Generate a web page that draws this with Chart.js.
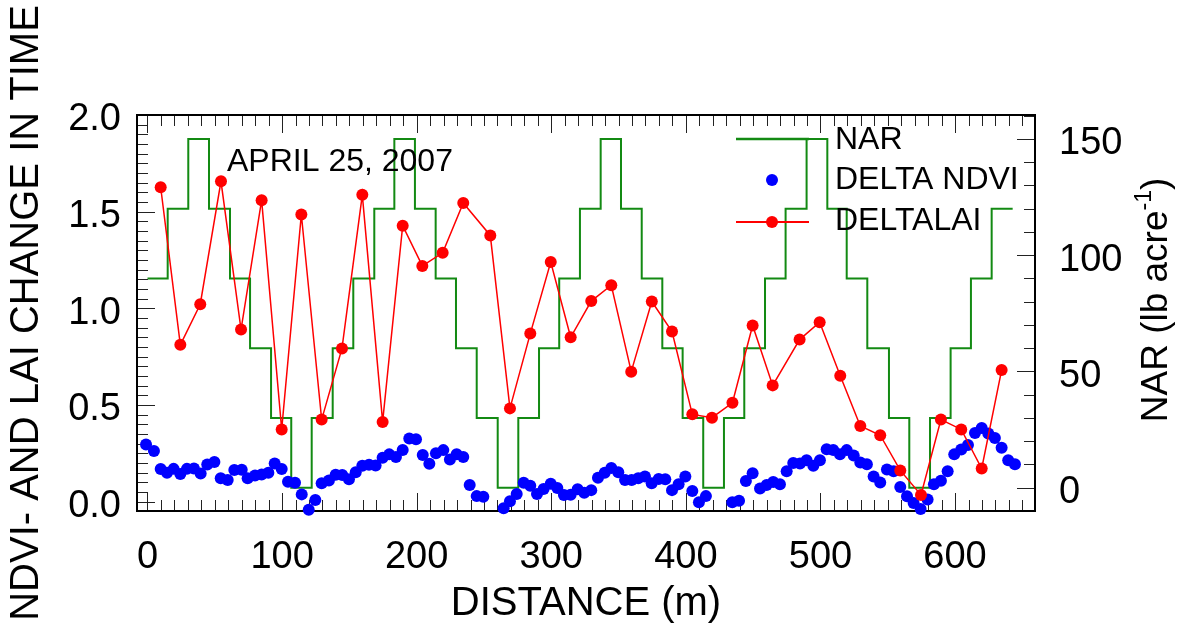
<!DOCTYPE html>
<html>
<head>
<meta charset="utf-8">
<script src="https://cdn.jsdelivr.net/npm/chart.js@4.4.1/dist/chart.umd.min.js"></script>
<style>
  html, body { margin: 0; padding: 0; background: #fff; }
</style>
</head>
<body>
<canvas id="chart" width="1178" height="628"></canvas>
<script>
// NAR application rate, step segments (start distance of each 50 ft strip, m)
const narDist = [0, 15.0, 30.3, 45.7, 61.3, 76.2, 91.8, 106.8, 122.0, 137.6, 152.9, 168.5, 183.4, 198.7,
  214.1, 229.2, 244.6, 260.2, 275.5, 290.9, 305.9, 321.3, 336.7, 351.8, 367.2, 382.5, 397.6, 412.9,
  428.3, 443.4, 458.8, 474.1, 489.7, 505.1, 519.5, 534.8, 550.9, 566.0, 581.4, 596.7, 611.8, 627.2, 642.8];
const narRate = [90, 120, 150, 120, 90, 60, 30, 0, 30, 60, 90, 120, 150, 120,
  90, 60, 30, 0, 30, 60, 90, 120, 150, 120, 90, 60, 30, 0,
  30, 60, 90, 120, 150, 120, 90, 60, 30, 0, 30, 60, 90, 120, 120];

// DELTA NDVI
const ndviDist = [-1.1, 4.8, 9.8, 14.5, 19.4, 24.4, 29.3, 34.5, 39.5, 44.4, 49.7, 54.4, 59.6, 64.5, 70.0,
  74.4, 79.9, 84.8, 89.8, 94.5, 99.7, 104.4, 109.6, 114.6, 119.8, 124.7, 129.4, 134.8, 139.8, 144.7,
  149.7, 154.7, 159.6, 164.6, 169.5, 174.7, 179.6, 184.6, 189.6, 194.5, 199.5, 204.5, 209.4, 214.3,
  219.8, 224.7, 229.7, 234.6, 239.4, 244.6, 249.5, 264.6, 269.3, 274.3, 279.5, 284.4, 289.4, 294.3,
  299.6, 304.5, 309.4, 314.4, 319.6, 324.5, 329.7, 334.7, 339.7, 344.6, 349.8, 354.8, 359.7, 364.6,
  369.6, 374.6, 379.8, 384.7, 389.7, 394.6, 399.6, 404.8, 409.7, 414.9, 434.5, 439.5,
  444.6, 449.6, 455.1, 460.0, 464.9, 469.9, 474.9, 479.8, 484.8, 489.7, 494.7, 499.6, 504.6, 509.5,
  514.5, 519.5, 524.7, 529.6, 534.5, 539.5, 544.4, 549.4, 554.4, 559.3, 564.3, 569.2, 574.4, 579.6,
  584.3, 589.5, 594.5, 599.4, 604.6, 609.6, 614.8, 619.8, 624.7, 629.6, 634.6, 639.5, 644.5];
const ndviVal = [0.295, 0.262, 0.168, 0.149, 0.169, 0.142, 0.169, 0.171, 0.145, 0.192, 0.205, 0.121, 0.111, 0.163, 0.164,
  0.121, 0.135, 0.140, 0.149, 0.197, 0.168, 0.102, 0.097, 0.037, -0.042, 0.008, 0.095, 0.109, 0.138, 0.137,
  0.115, 0.151, 0.185, 0.190, 0.187, 0.226, 0.244, 0.230, 0.267, 0.326, 0.322, 0.241, 0.195, 0.250,
  0.266, 0.218, 0.245, 0.230, 0.085, 0.028, 0.025, -0.035, 0.001, 0.039, 0.097, 0.082, 0.039, 0.065,
  0.092, 0.070, 0.034, 0.035, 0.063, 0.045, 0.059, 0.123, 0.149, 0.173, 0.151, 0.111, 0.111, 0.120,
  0.130, 0.095, 0.116, 0.115, 0.059, 0.090, 0.130, 0.054, -0.004, 0.028, -0.004, 0.004,
  0.106, 0.146, 0.068, 0.085, 0.101, 0.089, 0.157, 0.199, 0.197, 0.213, 0.185, 0.213, 0.271, 0.267,
  0.245, 0.266, 0.238, 0.202, 0.193, 0.130, 0.099, 0.166, 0.157, 0.075, 0.027, -0.008, -0.039, 0.011,
  0.089, 0.107, 0.157, 0.244, 0.269, 0.292, 0.355, 0.381, 0.352, 0.329, 0.278, 0.214, 0.193];

// DELTA LAI
const laiDist = [9.8, 24.4, 39.2, 54.6, 69.5, 84.8, 99.7, 114.3, 129.4, 144.5, 159.6, 174.7, 189.6, 204.2,
  219.3, 234.6, 254.7, 269.3, 284.4, 299.6, 314.4, 329.7, 344.6, 359.4, 374.7, 389.7, 404.8, 419.4,
  434.6, 449.6, 464.5, 484.5, 499.4, 514.7, 529.6, 544.4, 559.3, 574.7, 589.5, 604.6, 619.8, 634.6];
const laiVal = [1.626, 0.811, 1.021, 1.657, 0.890, 1.559, 0.373, 1.485, 0.424, 0.792, 1.587, 0.412, 1.427, 1.219,
  1.287, 1.545, 1.377, 0.482, 0.869, 1.239, 0.850, 1.037, 1.119, 0.672, 1.035, 0.880, 0.451, 0.434,
  0.511, 0.911, 0.601, 0.838, 0.928, 0.651, 0.391, 0.343, 0.161, 0.034, 0.424, 0.373, 0.171, 0.680];

const xTicks = [0, 100, 200, 300, 400, 500, 600];
const yTicks = [0, 0.5, 1.0, 1.5, 2.0];
const y2Ticks = [0, 50, 100, 150];

const FONT = "'Liberation Sans', Arial, Helvetica, sans-serif";
const GREEN = '#138a13';

function pts(xs, ys) {
  return xs.map((x, i) => ({ x: x, y: ys[i] }));
}

// inward ticks + frame, drawn under the data
const frame = {
  id: 'frame',
  beforeDatasetsDraw(chart) {
    const { ctx, chartArea: a, scales } = chart;
    ctx.save();
    ctx.strokeStyle = '#222';
    ctx.lineWidth = 1;
    ctx.beginPath();
    for (let v = 0; v <= 650; v += 10) {
      const px = Math.round(scales.x.getPixelForValue(v)) + 0.5;
      const len = v % 100 === 0 ? 18 : 11;
      ctx.moveTo(px, a.bottom); ctx.lineTo(px, a.bottom - len);
      ctx.moveTo(px, a.top); ctx.lineTo(px, a.top + len);
    }
    for (let i = 0; i <= 40; i++) {
      const py = Math.round(scales.y.getPixelForValue(i * 0.05)) + 0.5;
      const len = i % 10 === 0 ? 18 : 11;
      ctx.moveTo(a.left, py); ctx.lineTo(a.left + len, py);
    }
    for (let v = 0; v <= 160; v += 10) {
      const py = Math.round(scales.y2.getPixelForValue(v)) + 0.5;
      const len = v % 50 === 0 ? 18 : 11;
      ctx.moveTo(a.right, py); ctx.lineTo(a.right - len, py);
    }
    ctx.stroke();
    ctx.lineWidth = 2;
    ctx.strokeStyle = '#000';
    ctx.strokeRect(a.left, a.top, a.right - a.left, a.bottom - a.top);
    ctx.restore();
  },
  afterDraw(chart) {
    const ctx = chart.ctx;
    ctx.save();
    ctx.fillStyle = '#000';
    ctx.textBaseline = 'alphabetic';
    ctx.textAlign = 'left';
    ctx.font = '32px ' + FONT;
    ctx.fillText('APRIL 25, 2007', 227, 171);

    // legend
    ctx.textBaseline = 'middle';
    ctx.fillText('NAR', 835, 140);
    ctx.fillText('DELTA NDVI', 835, 180);
    ctx.fillText('DELTALAI', 835, 221);
    ctx.strokeStyle = GREEN;
    ctx.lineWidth = 2.5;
    ctx.beginPath(); ctx.moveTo(736, 139); ctx.lineTo(809, 139); ctx.stroke();
    ctx.fillStyle = 'blue';
    ctx.beginPath(); ctx.arc(772, 180, 6, 0, Math.PI * 2); ctx.fill();
    ctx.strokeStyle = 'red';
    ctx.lineWidth = 2;
    ctx.beginPath(); ctx.moveTo(736, 222); ctx.lineTo(809, 222); ctx.stroke();
    ctx.fillStyle = 'red';
    ctx.beginPath(); ctx.arc(772, 222, 6, 0, Math.PI * 2); ctx.fill();

    // right axis title, reading bottom to top, with superscript
    ctx.fillStyle = '#000';
    ctx.translate(1157, 300);
    ctx.rotate(-Math.PI / 2);
    const big = '37px ' + FONT, small = '23px ' + FONT;
    ctx.font = big;
    const w1 = ctx.measureText('NAR (lb acre').width;
    const w3 = ctx.measureText(')').width;
    ctx.font = small;
    const w2 = ctx.measureText('-1').width;
    let x0 = -(w1 + w2 + w3) / 2;
    ctx.font = big;
    ctx.fillText('NAR (lb acre', x0, 0);
    ctx.font = small;
    ctx.fillText('-1', x0 + w1, -12);
    ctx.font = big;
    ctx.fillText(')', x0 + w1 + w2, 0);
    ctx.restore();
  }
};

const tickFont = { family: FONT, size: 38 };

const ctx = document.getElementById('chart').getContext('2d');
const chart = new Chart(ctx, {
  type: 'scatter',
  data: {
    datasets: [
      {
        label: 'DELTALAI',
        type: 'line',
        data: pts(laiDist, laiVal),
        yAxisID: 'y',
        borderColor: 'red',
        backgroundColor: 'red',
        borderWidth: 1.5,
        pointRadius: 6,
        pointBorderWidth: 0,
        tension: 0,
        clip: false
      },
      {
        label: 'DELTA NDVI',
        data: pts(ndviDist, ndviVal),
        yAxisID: 'y',
        borderColor: 'blue',
        backgroundColor: 'blue',
        pointRadius: 6,
        pointBorderWidth: 0,
        showLine: false,
        clip: false
      },
      {
        label: 'NAR',
        type: 'line',
        data: pts(narDist, narRate),
        yAxisID: 'y2',
        stepped: true,
        borderColor: GREEN,
        borderWidth: 2,
        pointRadius: 0,
        fill: false
      }
    ]
  },
  options: {
    responsive: false,
    animation: false,
    events: [],
    layout: { padding: { top: 115, left: 0, right: 0, bottom: 0 } },
    plugins: {
      legend: { display: false },
      tooltip: { enabled: false }
    },
    scales: {
      x: {
        type: 'linear',
        position: 'bottom',
        min: -7.8,
        max: 659.4,
        afterBuildTicks: (s) => { s.ticks = xTicks.map(v => ({ value: v })); },
        afterFit: (s) => { s.height = 117; },
        grid: { display: false },
        border: { display: false },
        ticks: { font: tickFont, color: '#000', padding: 16, maxRotation: 0, autoSkip: false },
        title: {
          display: true,
          text: 'DISTANCE (m)',
          color: '#000',
          font: { family: FONT, size: 40 },
          padding: { top: 0, bottom: 0 }
        }
      },
      y: {
        type: 'linear',
        position: 'left',
        min: -0.049,
        max: 2.0,
        afterBuildTicks: (s) => { s.ticks = yTicks.map(v => ({ value: v })); },
        afterFit: (s) => { s.width = 137; },
        grid: { display: false },
        border: { display: false },
        ticks: { font: tickFont, color: '#000', padding: 8, labelOffset: 5, callback: (v) => v.toFixed(1) },
        title: {
          display: true,
          text: 'NDVI- AND LAI CHANGE IN TIME',
          color: '#000',
          font: { family: FONT, size: 40 },
          padding: { top: 3, bottom: 0 }
        }
      },
      y2: {
        type: 'linear',
        position: 'right',
        min: -10,
        max: 160.3,
        afterBuildTicks: (s) => { s.ticks = y2Ticks.map(v => ({ value: v })); },
        afterFit: (s) => { s.width = 143; },
        grid: { display: false },
        border: { display: false },
        ticks: { font: tickFont, color: '#000', padding: 16, labelOffset: 5 }
      }
    }
  },
  plugins: [frame]
});
</script>
</body>
</html>
